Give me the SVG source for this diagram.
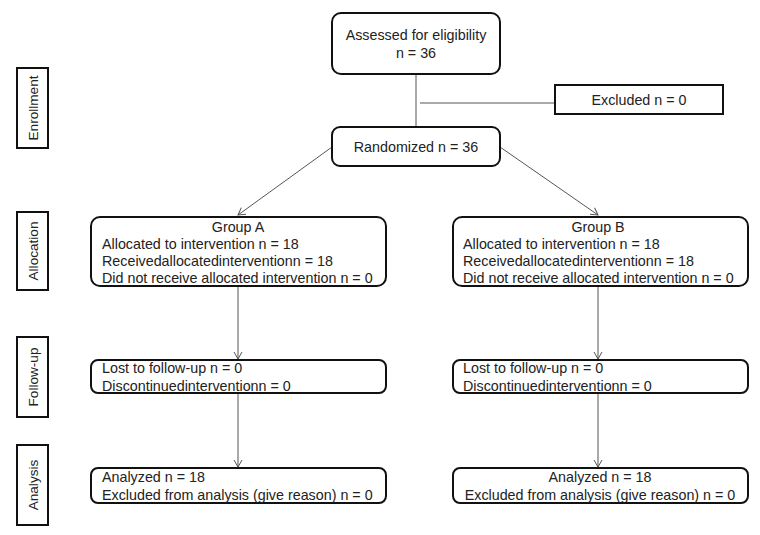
<svg xmlns="http://www.w3.org/2000/svg" width="760" height="535" viewBox="0 0 760 535">
<style>
.box{fill:#fff;stroke:#111;stroke-width:2}
.side{fill:#fff;stroke:#111;stroke-width:2}
.t{font-family:"Liberation Sans",Arial,sans-serif;font-size:14.3px;fill:#222}
.s{font-size:13.6px}
.c{text-anchor:middle}
.con{stroke:#555;stroke-width:1;fill:none}
</style>
<defs>
<marker id="arr" markerWidth="10" markerHeight="10" refX="8" refY="5" orient="auto" markerUnits="userSpaceOnUse">
<path d="M1,1 L8,5 L1,9" fill="none" stroke="#555" stroke-width="1"/>
</marker>
</defs>
<rect width="760" height="535" fill="#fff"/>
<g id="stages">
<g id="enrollment"><rect class="side" x="17" y="68" width="31" height="80"/><text class="t s c" transform="translate(37.5,108) rotate(-90)">Enrollment</text></g>
<g id="allocation"><rect class="side" x="17" y="212" width="31" height="78"/><text class="t s c" transform="translate(37.5,251) rotate(-90)">Allocation</text></g>
<g id="followup"><rect class="side" x="17" y="337" width="31" height="80"/><text class="t s c" transform="translate(37.5,377) rotate(-90)">Follow-up</text></g>
<g id="analysis"><rect class="side" x="17" y="445" width="31" height="80"/><text class="t s c" transform="translate(37.5,485) rotate(-90)">Analysis</text></g>
</g>
<g id="connectors">
<line class="con" x1="416" y1="74" x2="416" y2="127"/>
<line class="con" x1="420" y1="103" x2="555" y2="103"/>
<line class="con" x1="332" y1="147" x2="238" y2="215" marker-end="url(#arr)"/>
<line class="con" x1="500" y1="147" x2="598" y2="215" marker-end="url(#arr)"/>
<line class="con" x1="238" y1="286" x2="238" y2="359" marker-end="url(#arr)"/>
<line class="con" x1="598" y1="286" x2="598" y2="359" marker-end="url(#arr)"/>
<line class="con" x1="238" y1="393" x2="238" y2="467" marker-end="url(#arr)"/>
<line class="con" x1="598" y1="393" x2="598" y2="467" marker-end="url(#arr)"/>
</g>
<g id="assessed"><rect class="box" x="332" y="13" width="168" height="61" rx="9"/>
<text class="t c" x="416" y="40">Assessed for eligibility</text><text class="t c" x="416" y="58">n = 36</text></g>
<g id="excluded"><rect class="box" x="555" y="85" width="168" height="29"/>
<text class="t c" x="639" y="105">Excluded n = 0</text></g>
<g id="randomized"><rect class="box" x="332" y="127" width="168" height="39" rx="8"/>
<text class="t c" x="416" y="152">Randomized n = 36</text></g>
<g id="groupA"><rect class="box" x="91" y="217" width="295" height="69" rx="9"/>
<text class="t c" x="238" y="232">Group A</text>
<text class="t" x="102" y="249">Allocated to intervention n = 18</text>
<text class="t" x="102" y="266">Receivedallocatedinterventionn = 18</text>
<text class="t" x="102" y="283">Did not receive allocated intervention n = 0</text></g>
<g id="groupB"><rect class="box" x="453" y="217" width="295" height="69" rx="9"/>
<text class="t c" x="598" y="232">Group B</text>
<text class="t" x="463" y="249">Allocated to intervention n = 18</text>
<text class="t" x="463" y="266">Receivedallocatedinterventionn = 18</text>
<text class="t" x="463" y="283">Did not receive allocated intervention n = 0</text></g>
<g id="followA"><rect class="box" x="91" y="360" width="295" height="33" rx="7"/>
<text class="t" x="102" y="373">Lost to follow-up n = 0</text>
<text class="t" x="102" y="391">Discontinuedinterventionn = 0</text></g>
<g id="followB"><rect class="box" x="453" y="360" width="295" height="33" rx="7"/>
<text class="t" x="463" y="373">Lost to follow-up n = 0</text>
<text class="t" x="463" y="391">Discontinuedinterventionn = 0</text></g>
<g id="analysisA"><rect class="box" x="91" y="468" width="295" height="35" rx="7"/>
<text class="t" x="102" y="482">Analyzed n = 18</text>
<text class="t" x="102" y="500">Excluded from analysis (give reason) n = 0</text></g>
<g id="analysisB"><rect class="box" x="453" y="468" width="295" height="35" rx="7"/>
<text class="t c" x="600" y="482">Analyzed n = 18</text>
<text class="t c" x="600" y="500">Excluded from analysis (give reason) n = 0</text></g>
</svg>
